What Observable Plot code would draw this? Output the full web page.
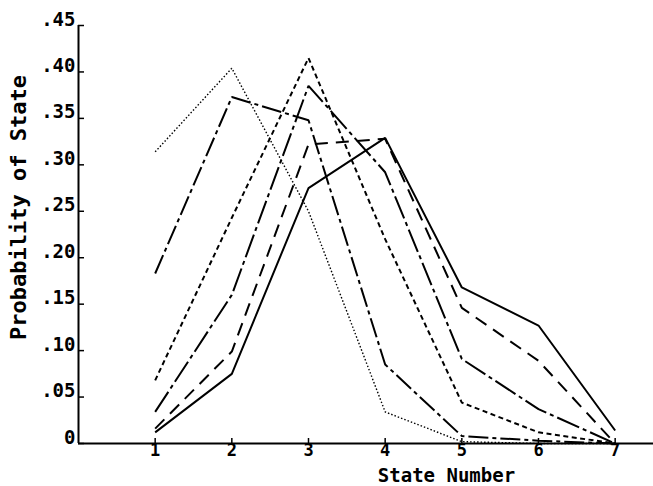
<!DOCTYPE html>
<html>
<head>
<meta charset="utf-8">
<script src="https://cdn.jsdelivr.net/npm/d3@7"></script>
<script src="https://cdn.jsdelivr.net/npm/@observablehq/plot@0.6"></script>
<style>
  html, body { margin: 0; padding: 0; background: #fff; }
</style>
</head>
<body>
<div id="chart"></div>
<script>
// State numbers on the x axis
const states = [1, 2, 3, 4, 5, 6, 7];

// Probability of each state, one array per curve
const dottedSeries   = [0.314, 0.404, 0.250, 0.034, 0.002, 0.000, 0.000];
const dashDotSeries  = [0.183, 0.373, 0.348, 0.085, 0.008, 0.003, 0.000];
const shortDashSeries= [0.068, 0.243, 0.415, 0.220, 0.044, 0.012, 0.000];
const longDashSeries = [0.034, 0.160, 0.385, 0.292, 0.091, 0.037, 0.000];
const medDashSeries  = [0.016, 0.099, 0.322, 0.328, 0.146, 0.089, 0.000];
const solidSeries    = [0.012, 0.075, 0.275, 0.329, 0.168, 0.127, 0.014];

// Tick values and labels
const xTicks = [1, 2, 3, 4, 5, 6, 7];
const yTicks = [0, 0.05, 0.10, 0.15, 0.20, 0.25, 0.30, 0.35, 0.40, 0.45];
const yTickLabels = ["0", ".05", ".10", ".15", ".20", ".25", ".30", ".35", ".40", ".45"];

const xLabel = "State Number";
const yLabel = "Probability of State";

const seriesDefs = [
  {values: dottedSeries,    dash: "1.5,2",        width: 1.4},
  {values: dashDotSeries,   dash: "20,4,4,4",     width: 2},
  {values: shortDashSeries, dash: "5,3.5",        width: 2},
  {values: longDashSeries,  dash: "24,4,4,4",     width: 2},
  {values: medDashSeries,   dash: "13,8",         width: 2},
  {values: solidSeries,     dash: null,           width: 2}
];

const lineMarks = seriesDefs.map(s =>
  Plot.line(states.map((st, i) => ({state: st, p: s.values[i]})), {
    x: "state", y: "p", stroke: "#000", strokeWidth: s.width,
    strokeDasharray: s.dash, strokeLinejoin: "miter", strokeLinecap: "butt"
  })
);

const chart = Plot.plot({
  width: 653,
  height: 486,
  marginTop: 25,
  marginBottom: 43,
  marginLeft: 78,
  marginRight: 0,
  style: {fontFamily: "'DejaVu Sans Mono', monospace", fontSize: "19px", fontWeight: "bold", color: "#000", background: "#fff"},
  x: {domain: [0, 7.5]},
  y: {domain: [0, 0.45]},
  marks: [
    ...lineMarks,
    // inward tick marks
    Plot.ruleX(xTicks, {x: d => d, insetTop: 413, stroke: "#000", strokeWidth: 1.5}),
    Plot.ruleY(yTicks, {y: d => d, insetRight: 569, stroke: "#000", strokeWidth: 1.5}),
    // axis lines
    Plot.ruleX([0], {stroke: "#000", strokeWidth: 2}),
    Plot.ruleY([0], {stroke: "#000", strokeWidth: 2}),
    Plot.axisX(xTicks, {tickSize: 0, tickPadding: 0, tickFormat: d => String(d), label: null, fontSize: 17, fontWeight: "bold"}),
    Plot.axisY(yTicks, {tickSize: 0, tickPadding: 3, dy: -6, tickFormat: (d, i) => yTickLabels[i], label: null, fontSize: 19, fontWeight: "bold"}),
    Plot.text([xLabel], {x: [4.8], frameAnchor: "bottom", dy: 38, lineAnchor: "bottom", textAnchor: "middle", fontSize: 19, fontWeight: "bold", fill: "#000"}),
    Plot.text([yLabel], {y: [0.254], frameAnchor: "left", dx: -60, rotate: -90, lineAnchor: "middle", textAnchor: "middle", fontSize: 22, fontWeight: "bold", fill: "#000"})
  ]
});

document.getElementById("chart").appendChild(chart);
</script>
</body>
</html>
